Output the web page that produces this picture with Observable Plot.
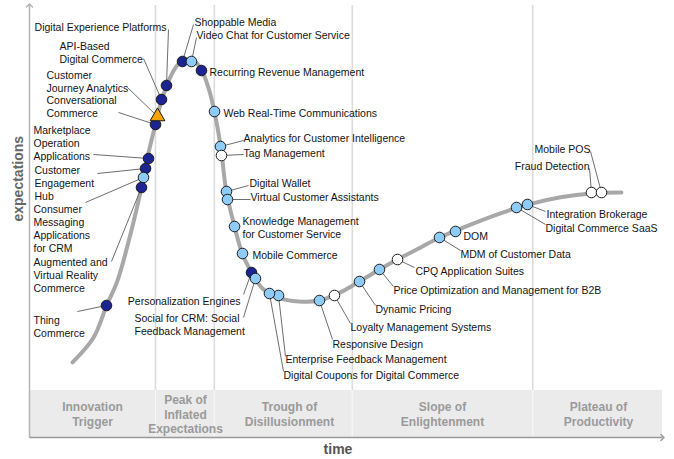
<!DOCTYPE html>
<html><head><meta charset="utf-8">
<script src="https://cdn.jsdelivr.net/npm/d3@7"></script>
<script src="https://cdn.jsdelivr.net/npm/@observablehq/plot@0.6"></script>
<style>body{margin:0;background:#fff}#chart svg{display:block}</style>
</head><body><div id="chart"></div>
<script>
// ---- scales ----
const timeDomain = [0, 100];
const expDomain = [0, 100];

// ---- hype curve ----
const curveX = [6.8, 10.1, 12.2, 13.9, 16.3, 17.7, 18.6, 19.9, 20.9, 22.0, 23.2, 24.6, 25.9, 27.2, 28.3, 29.2, 30.2, 31.1, 32.4, 33.6, 35.1, 36.8, 39.3, 42.5, 45.8, 49.1, 52.1, 55.3, 58.1, 61.8, 64.8, 69.7, 74.4, 78.7, 83.9, 88.8, 93.5];
const curveY = [17.4, 23.1, 30.6, 36.3, 49.1, 57.9, 64.6, 72.5, 78.2, 82.6, 85.9, 87.5, 87.3, 85.0, 80.8, 75.5, 67.4, 56.9, 48.8, 42.6, 38.2, 34.5, 32.4, 31.5, 31.7, 33.6, 36.1, 38.9, 41.2, 44.0, 46.3, 49.3, 51.9, 53.9, 55.6, 56.5, 56.7];

// ---- technologies ----
const labelText = [
  "Digital Experience Platforms", "API-Based\nDigital Commerce", "Customer\nJourney Analytics",
  "Conversational\nCommerce", "Marketplace\nOperation\nApplications", "Customer\nEngagement\nHub",
  "Consumer\nMessaging\nApplications\nfor CRM", "Augmented and\nVirtual Reality\nCommerce", "Thing\nCommerce",
  "Shoppable Media", "Video Chat for Customer Service", "Recurring Revenue Management",
  "Web Real-Time Communications", "Analytics for Customer Intelligence", "Tag Management",
  "Digital Wallet", "Virtual Customer Assistants", "Knowledge Management\nfor Customer Service",
  "Mobile Commerce", "Personalization Engines", "Social for CRM: Social\nFeedback Management",
  "Enterprise Feedback Management", "Digital Coupons for Digital Commerce", "Responsive Design",
  "Loyalty Management Systems", "Dynamic Pricing", "Price Optimization and Management for B2B",
  "CPQ Application Suites", "MDM of Customer Data", "DOM",
  "Integration Brokerage", "Digital Commerce SaaS", "Fraud Detection", "Mobile POS"
];
const techX = [21.64, 20.85, 20.22, 19.91, 18.80, 18.33, 18.01, 17.69, 12.16, 24.17, 25.59, 27.17, 29.23, 30.17, 30.33, 31.12, 31.28, 32.39, 33.65, 35.07, 35.70, 39.34, 37.91, 45.81, 48.18, 52.13, 55.29, 58.14, 64.77, 67.30, 78.67, 76.94, 88.78, 90.36];
const techY = [81.48, 78.24, 74.31, 72.45, 64.58, 62.27, 60.19, 57.87, 30.56, 87.04, 87.04, 84.95, 75.46, 67.36, 65.28, 56.94, 55.09, 48.84, 42.59, 38.19, 36.81, 32.87, 33.33, 31.71, 32.87, 36.11, 38.89, 41.20, 46.30, 47.69, 53.94, 53.24, 56.71, 56.71];
const adoption = [
  "5-10", "5-10", "obsolete", "5-10", "5-10", "5-10", "2-5", "5-10", "5-10",
  "5-10", "2-5", "5-10", "2-5", "2-5", "<2", "2-5", "2-5", "2-5", "2-5", "5-10", "2-5",
  "2-5", "2-5", "2-5", "<2", "2-5", "2-5", "<2", "2-5", "2-5", "2-5", "2-5", "<2", "<2"
];
const adoptionKeys = ["<2", "2-5", "5-10"];
const adoptionColors = ["#ffffff", "#8ecbf6", "#1b2490"];

// ---- label layout (data units) ----
const labelX = [21.64, 4.74, 2.69, 2.69, 0.63, 0.79, 0.63, 0.63, 0.63, 26.07, 26.38, 28.44, 30.65, 33.81, 33.81, 34.76, 34.91, 33.65, 35.23, 33.33, 16.59, 40.44, 40.13, 47.87, 50.71, 54.66, 57.50, 60.98, 68.09, 68.56, 81.67, 81.52, 88.47, 88.63];
const labelY = [95.14, 89.24, 82.41, 76.62, 68.29, 58.91, 48.38, 37.73, 25.81, 96.30, 93.29, 84.72, 75.23, 69.44, 65.97, 59.03, 55.79, 48.73, 42.36, 31.71, 26.27, 18.29, 14.58, 21.76, 25.69, 29.86, 34.26, 38.66, 42.59, 46.76, 51.85, 48.61, 62.96, 66.90];
const labelAnchor = ["end", "start", "start", "start", "start", "start", "start", "start", "start", "start", "start", "start", "start", "start", "start", "start", "start", "start", "start", "end", "start", "start", "start", "start", "start", "start", "start", "start", "start", "start", "start", "start", "end", "end"];
const leaderX = [21.96, 18.01, 15.48, 14.06, 10.11, 10.74, 8.85, 12.95, 7.58, 25.91, 26.38, null, null, 33.81, 33.81, 34.60, 34.91, null, null, 33.81, 33.81, 40.44, 40.13, 47.87, 50.71, 54.66, 57.50, 60.82, 68.09, null, 81.52, 81.52, 88.47, 88.63];
const leaderY = [94.44, 87.73, 81.02, 75.23, 65.51, 61.11, 54.40, 40.74, 29.17, 95.60, 92.59, null, null, 68.75, 65.51, 58.33, 55.09, null, null, 33.10, 27.78, 18.75, 15.28, 22.69, 26.39, 30.56, 34.95, 39.35, 43.29, null, 52.31, 49.31, 62.27, 66.20];

// ---- phases ----
const phaseNames = ["Innovation\nTrigger", "Peak of\nInflated\nExpectations", "Trough of\nDisillusionment", "Slope of\nEnlightenment", "Plateau of\nProductivity"];
const phaseBounds = [0, 19.9, 29.2, 51.0, 79.5, 100];
const phaseLabelX = [9.95, 24.64, 41.07, 65.24, 89.89];
const bandTop = 10.9;

// ---- build tables ----
const curve = curveX.map((x, i) => ({x, y: curveY[i]}));
const techs = labelText.map((label, i) => ({
  label, x: techX[i], y: techY[i], adoption: adoption[i],
  lx: labelX[i], ly: labelY[i], anchor: labelAnchor[i], ex: leaderX[i], ey: leaderY[i]
}));
const phases = phaseNames.map((name, i) => ({name, x1: phaseBounds[i], x2: phaseBounds[i + 1], lx: phaseLabelX[i], ly: bandTop / 2}));
const inner = phaseBounds.slice(1, -1);

const labelFont = {fontSize: 10.5, lineHeight: 1.24, fill: "#141414", lineAnchor: "middle"};

const chart = Plot.plot({
  width: 674, height: 459,
  marginLeft: 29, marginRight: 12, marginTop: 5, marginBottom: 22,
  style: {fontFamily: "'Liberation Sans', Arial, sans-serif", background: "#fff"},
  x: {domain: timeDomain, axis: null},
  y: {domain: expDomain, axis: null},
  color: {domain: adoptionKeys, range: adoptionColors},
  marks: [
    Plot.rect(phases, {x1: "x1", x2: "x2", y1: expDomain[0], y2: bandTop, fill: "#ebebeb"}),
    Plot.ruleX(inner, {y1: bandTop, y2: expDomain[1], stroke: "#dcdcdc", strokeWidth: 1.6}),
    Plot.ruleX(inner, {y1: expDomain[0], y2: bandTop, stroke: "#f7f7f7", strokeWidth: 1}),
    Plot.text(phases, {x: "lx", y: "ly", text: "name", fontSize: 12, fontWeight: "bold", fill: "#9a9a9a", lineHeight: 1.2, lineAnchor: "middle"}),
    Plot.link([{x1: timeDomain[0], y1: expDomain[0], x2: timeDomain[0], y2: expDomain[1]}], {x1: "x1", y1: "y1", x2: "x2", y2: "y2", stroke: "#b5b5b5", strokeWidth: 1.5, markerEnd: "arrow"}),
    Plot.link([{x1: timeDomain[0], y1: expDomain[0], x2: timeDomain[1], y2: expDomain[0]}], {x1: "x1", y1: "y1", x2: "x2", y2: "y2", stroke: "#999", strokeWidth: 1.5, markerEnd: "arrow"}),
    Plot.text(["expectations"], {frameAnchor: "left", rotate: -90, dx: -11, fontSize: 14, fontWeight: "bold", fill: "#666"}),
    Plot.text(["time"], {frameAnchor: "bottom", dy: 16, dx: -8, fontSize: 14, fontWeight: "bold", fill: "#555"}),
    Plot.line(curve, {x: "x", y: "y", curve: "catmull-rom", stroke: "#a8a8a8", strokeWidth: 4, strokeLinecap: "round"}),
    Plot.link(techs.filter(d => d.ex != null), {x1: "ex", y1: "ey", x2: "x", y2: "y", stroke: "#6e6e6e", strokeWidth: 1}),
    Plot.dot(techs.filter(d => d.adoption !== "obsolete"), {x: "x", y: "y", r: 5.3, fill: "adoption", stroke: "#1a1a1a", strokeWidth: 1}),
    Plot.dot(techs.filter(d => d.adoption === "obsolete"), {x: "x", y: "y", r: 5.5, symbol: "triangle", fill: "#f5a300", stroke: "#1a1a1a", strokeWidth: 1}),
    Plot.text(techs.filter(d => d.anchor === "start"), {x: "lx", y: "ly", text: "label", textAnchor: "start", ...labelFont}),
    Plot.text(techs.filter(d => d.anchor === "end"), {x: "lx", y: "ly", text: "label", textAnchor: "end", ...labelFont})
  ]
});
document.getElementById("chart").appendChild(chart);
</script>
</body></html>
